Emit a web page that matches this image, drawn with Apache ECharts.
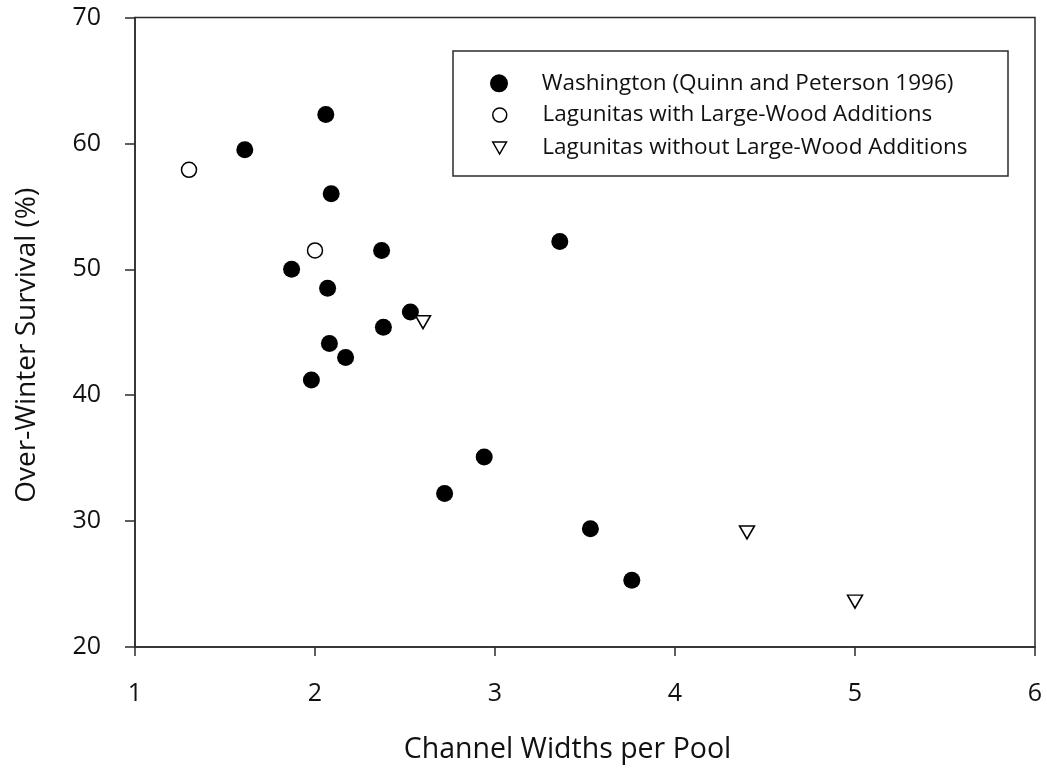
<!DOCTYPE html>
<html>
<head>
<meta charset="utf-8">
<script src="https://cdn.jsdelivr.net/npm/echarts@6/dist/echarts.min.js"></script>
<style>
  html, body { margin: 0; padding: 0; background: #fff; }
  #chart { width: 1047px; height: 775px; }
</style>
</head>
<body>
<div id="chart"></div>
<script>
// ---- data ----
const seriesNames = [
  'Washington (Quinn and Peterson 1996)',
  'Lagunitas with Large-Wood Additions',
  'Lagunitas without Large-Wood Additions'
];
const washingtonX = [2.06, 1.61, 2.09, 2.37, 3.36, 1.87, 2.07, 2.53, 2.38, 2.08, 2.17, 1.98, 2.94, 2.72, 3.53, 3.76];
const washingtonY = [62.3, 59.5, 56.0, 51.5, 52.2, 50.0, 48.5, 46.6, 45.4, 44.1, 43.0, 41.2, 35.1, 32.2, 29.4, 25.3];
const withWoodX = [1.30, 2.00];
const withWoodY = [57.9, 51.5];
const withoutWoodX = [2.60, 4.40, 5.00];
const withoutWoodY = [45.8, 29.1, 23.6];
const xTicks = [1, 2, 3, 4, 5, 6];
const yTicks = [20, 30, 40, 50, 60, 70];
const xTitle = 'Channel Widths per Pool';
const yTitle = 'Over-Winter Survival (%)';

function pairs(xs, ys) { return xs.map((x, i) => [x, ys[i]]); }

const FONT = '"Open Sans", "Noto Sans", sans-serif';
const AXIS_COLOR = '#2b2b2b';
const DOWN_TRIANGLE = 'path://M0,0 L16,0 L8,14 Z';

const chart = echarts.init(document.getElementById('chart'), null, { renderer: 'canvas' });

function legendFor(name, icon, left, top, w, h, textPad, style) {
  return {
    data: [{ name: name, icon: icon }],
    orient: 'vertical',
    left: left,
    top: top,
    padding: 0,
    itemWidth: w,
    itemHeight: h,
    itemGap: 0,
    selectedMode: false,
    itemStyle: style,
    textStyle: { fontFamily: FONT, fontSize: 22.5, color: '#111', lineHeight: 24, padding: [0, 0, 0, textPad] }
  };
}

const option = {
  backgroundColor: '#fff',
  animation: false,
  grid: {
    left: 135, right: 12, top: 17.5, bottom: 128,
    show: true, borderColor: AXIS_COLOR, borderWidth: 1.5, backgroundColor: 'transparent'
  },
  xAxis: {
    type: 'value', min: xTicks[0], max: xTicks[xTicks.length - 1], interval: 1,
    name: xTitle, nameLocation: 'middle', nameGap: 88,
    nameTextStyle: { fontFamily: FONT, fontSize: 28.5, color: '#111', padding: [0, 35, 0, 0] },
    axisLine: { show: true, lineStyle: { color: AXIS_COLOR, width: 1.5 } },
    axisTick: { show: true, inside: false, length: 9, lineStyle: { color: AXIS_COLOR, width: 1.5 } },
    axisLabel: { margin: 34, fontFamily: FONT, fontSize: 25, color: '#111' },
    splitLine: { show: false }
  },
  yAxis: {
    type: 'value', min: yTicks[0], max: yTicks[yTicks.length - 1], interval: 10,
    name: yTitle, nameLocation: 'middle', nameGap: 94, nameRotate: 90,
    nameTextStyle: { fontFamily: FONT, fontSize: 28, color: '#111', padding: [0, 26, 0, 0] },
    axisLine: { show: true, lineStyle: { color: AXIS_COLOR, width: 1.5 } },
    axisTick: { show: true, inside: false, length: 10, lineStyle: { color: AXIS_COLOR, width: 1.5 } },
    axisLabel: { margin: 34, fontFamily: FONT, fontSize: 25, color: '#111' },
    splitLine: { show: false }
  },
  legend: [
    legendFor(seriesNames[0], 'circle', 490, 71.3, 18, 18, 28.7, { color: '#000', borderWidth: 0 }),
    legendFor(seriesNames[1], 'circle', 492, 103, 14, 14, 30.7, { color: '#fff', borderColor: '#000', borderWidth: 1.5 }),
    legendFor(seriesNames[2], DOWN_TRIANGLE, 492, 136, 14, 12, 30.7, { color: '#fff', borderColor: '#000', borderWidth: 1.5 })
  ],
  graphic: [{
    type: 'rect',
    shape: { x: 453, y: 51, width: 555, height: 125 },
    style: { fill: 'none', stroke: AXIS_COLOR, lineWidth: 1.5 },
    z: 10
  }],
  series: [
    {
      name: seriesNames[0], type: 'scatter', symbol: 'circle', symbolSize: 17,
      itemStyle: { color: '#000', opacity: 1 },
      data: pairs(washingtonX, washingtonY), z: 2
    },
    {
      name: seriesNames[1], type: 'scatter', symbol: 'circle', symbolSize: 15,
      itemStyle: { color: '#fff', borderColor: '#000', borderWidth: 1.5, opacity: 1 },
      data: pairs(withWoodX, withWoodY), z: 3
    },
    {
      name: seriesNames[2], type: 'scatter', symbol: DOWN_TRIANGLE, symbolSize: [15, 13],
      itemStyle: { color: '#fff', borderColor: '#000', borderWidth: 1.5, opacity: 1 },
      data: pairs(withoutWoodX, withoutWoodY), z: 4
    }
  ]
};
chart.setOption(option);
</script>
</body>
</html>
